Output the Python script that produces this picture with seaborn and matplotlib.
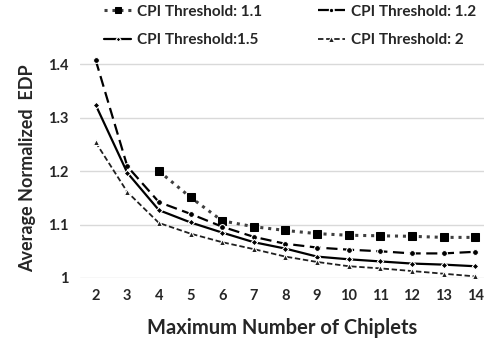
import matplotlib
matplotlib.use("Agg")
import matplotlib.pyplot as plt
import seaborn as sns
import pandas as pd
import numpy as np

chiplets = list(range(2, 15))
labels = ["CPI Threshold: 1.1", "CPI Threshold: 1.2", "CPI Threshold:1.5", "CPI Threshold: 2"]
t11 = [np.nan, np.nan, 1.200, 1.151, 1.107, 1.096, 1.089, 1.083, 1.080, 1.079, 1.078, 1.076, 1.076]
t12 = [1.408, 1.209, 1.142, 1.120, 1.096, 1.077, 1.064, 1.057, 1.053, 1.050, 1.046, 1.046, 1.049]
t15 = [1.324, 1.197, 1.127, 1.104, 1.085, 1.067, 1.055, 1.040, 1.035, 1.031, 1.027, 1.025, 1.022]
t2 = [1.254, 1.161, 1.103, 1.083, 1.067, 1.054, 1.040, 1.030, 1.022, 1.018, 1.013, 1.008, 1.003]
yticks = [1.0, 1.1, 1.2, 1.3, 1.4]
ytick_labels = ["1", "1.1", "1.2", "1.3", "1.4"]

sns.set_theme(style="white")
plt.rcParams['font.family'] = ['Lato', 'DejaVu Sans']

fig = plt.figure(figsize=(4.84, 3.39), dpi=100)
ax = fig.add_axes([0.165, 0.18, 0.835, 0.646])

styles = [
    dict(marker="s", linestyle=(0, (1, 1.6)), color="#404040", lw=2.2, ms=5.5, mfc="black", mec="black"),
    dict(marker="o", linestyle=(0, (5, 2.5)), color="black", lw=1.6, ms=4.2),
    dict(marker="D", linestyle="-", color="black", lw=1.6, ms=3.3),
    dict(marker="^", linestyle=(0, (3, 1.5)), color="#202020", lw=1.3, ms=5),
]
series = [t11, t12, t15, t2]
for lab, vals, st in zip(labels, series, styles):
    df = pd.DataFrame({"x": chiplets, "y": vals}).dropna()
    sns.lineplot(data=df, x="x", y="y", ax=ax, label=lab, clip_on=False, **st)

ax.set_xlim(1.5, 14.28)
ax.set_ylim(1.0, 1.41)
ax.set_xticks(chiplets)
ax.set_xticklabels([str(c) for c in chiplets], fontsize=10.5, fontweight="bold")
ax.set_yticks(yticks)
ax.set_yticklabels(ytick_labels, fontsize=10.5, fontweight="bold")
ax.tick_params(axis="both", length=0, pad=8)
ax.grid(axis="y", color="#d9d9d9", lw=1)
for s in ax.spines.values():
    s.set_visible(False)
ax.set_xlabel("Maximum Number of Chiplets", fontsize=14.5, fontweight="bold", labelpad=11)
ax.set_ylabel("Average Normalized  EDP", fontsize=13, fontweight="bold", labelpad=9)

h, l = ax.get_legend_handles_labels()
order = [0, 2, 1, 3]
ax.legend([h[i] for i in order], [l[i] for i in order],
          loc="upper left", bbox_to_anchor=(0.205, 1.0), bbox_transform=fig.transFigure,
          ncol=2, frameon=False, markerscale=0.75,
          prop=dict(weight="bold", size=11), handlelength=1.8, handletextpad=0.4,
          columnspacing=3.6, labelspacing=0.95, borderaxespad=0, borderpad=0.3)

fig.savefig("out.png", dpi=100)
